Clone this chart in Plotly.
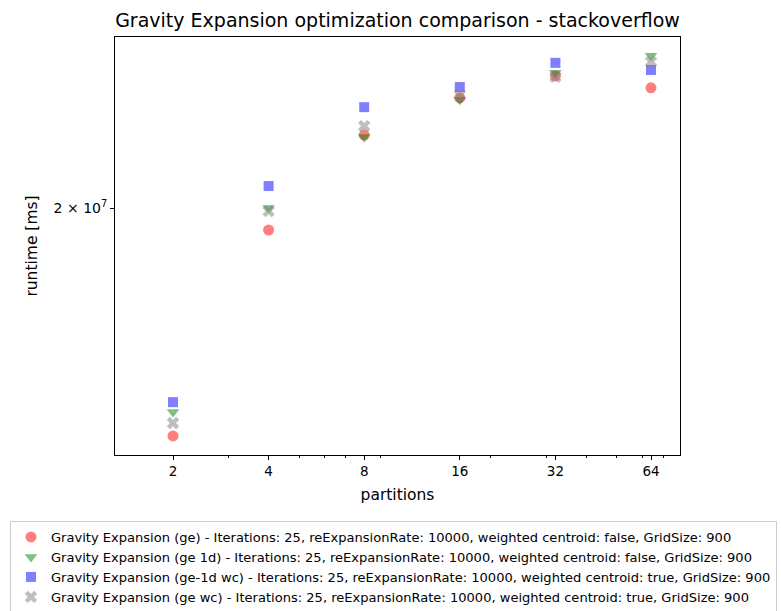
import plotly.graph_objects as go

partitions = [2, 4, 8, 16, 32, 64]

names = [
    "Gravity Expansion (ge) - Iterations: 25, reExpansionRate: 10000, weighted centroid: false, GridSize: 900",
    "Gravity Expansion (ge 1d) - Iterations: 25, reExpansionRate: 10000, weighted centroid: false, GridSize: 900",
    "Gravity Expansion (ge-1d wc) - Iterations: 25, reExpansionRate: 10000, weighted centroid: true, GridSize: 900",
    "Gravity Expansion (ge wc) - Iterations: 25, reExpansionRate: 10000, weighted centroid: true, GridSize: 900",
]

runtime_ge = [1.241e7, 1.910e7, 2.330e7, 2.518e7, 2.637e7, 2.572e7]
runtime_ge_1d = [1.305e7, 2.000e7, 2.320e7, 2.508e7, 2.654e7, 2.750e7]
runtime_ge_1d_wc = [1.332e7, 2.094e7, 2.470e7, 2.576e7, 2.710e7, 2.670e7]
runtime_ge_wc = [1.275e7, 1.987e7, 2.374e7, 2.534e7, 2.632e7, 2.716e7]

series = [runtime_ge, runtime_ge_1d, runtime_ge_1d_wc, runtime_ge_wc]
colors = ["rgba(255,0,0,0.5)", "rgba(0,128,0,0.5)", "rgba(0,0,255,0.5)", "rgba(128,128,128,0.5)"]
symbols = ["circle", "triangle-down", "square", "x"]
sizes = [11, 11, 10, 11]

x_ticks = [2, 4, 8, 16, 32, 64]
x_minor = [3, 5, 6, 7, 9, 20, 30, 40, 50, 60, 70]
y_ticks = [2e7]
y_ticktext = ["2 × 10<sup>7</sup>"]

fig = go.Figure()
for name, vals, c, s, sz in zip(names, series, colors, symbols, sizes):
    fig.add_trace(go.Scatter(
        x=partitions, y=vals, mode="markers", name=name,
        marker=dict(symbol=s, color=c, size=sz, line=dict(width=0)),
    ))

font = "DejaVu Sans"
fig.update_layout(
    width=781, height=611,
    margin=dict(l=115, r=101, t=37, b=156, autoexpand=False),
    paper_bgcolor="white", plot_bgcolor="white",
    font=dict(family=font, size=14, color="black"),
    title=dict(text="Gravity Expansion optimization comparison - stackoverflow",
               x=(115 + 680) / 2 / 781, xanchor="center", y=1 - 20 / 611, yanchor="middle",
               font=dict(size=19, family=font, color="black")),
    xaxis=dict(type="log", range=[0.1184, 1.8975], tickvals=x_ticks,
               ticktext=[str(t) for t in x_ticks],
               ticks="outside", ticklen=4, tickwidth=1, tickcolor="black",
               showline=True, linecolor="black", linewidth=1, mirror=True,
               showgrid=False, zeroline=False,
               minor=dict(tickvals=x_minor, ticks="outside", ticklen=2, tickcolor="black", showgrid=False),
               title=dict(text="partitions", standoff=10, font=dict(size=15.5)),
               tickfont=dict(size=13.5)),
    yaxis=dict(type="log", range=[7.07648, 7.45648], tickvals=y_ticks, ticktext=y_ticktext,
               ticks="outside", ticklen=4, tickwidth=1, tickcolor="black",
               showline=True, linecolor="black", linewidth=1, mirror=True,
               showgrid=False, zeroline=False,
               title=dict(text="runtime [ms]", standoff=12, font=dict(size=15.5)),
               tickfont=dict(size=14)),
    legend=dict(x=(10 - 115) / 565, y=(455 - 521) / 418, xanchor="left", yanchor="top",
                bordercolor="#cccccc", borderwidth=1, bgcolor="white",
                font=dict(family=font, size=13.05, color="black"),
                itemwidth=30, tracegroupgap=0),
    showlegend=True,
)

fig.write_html("out.html")
